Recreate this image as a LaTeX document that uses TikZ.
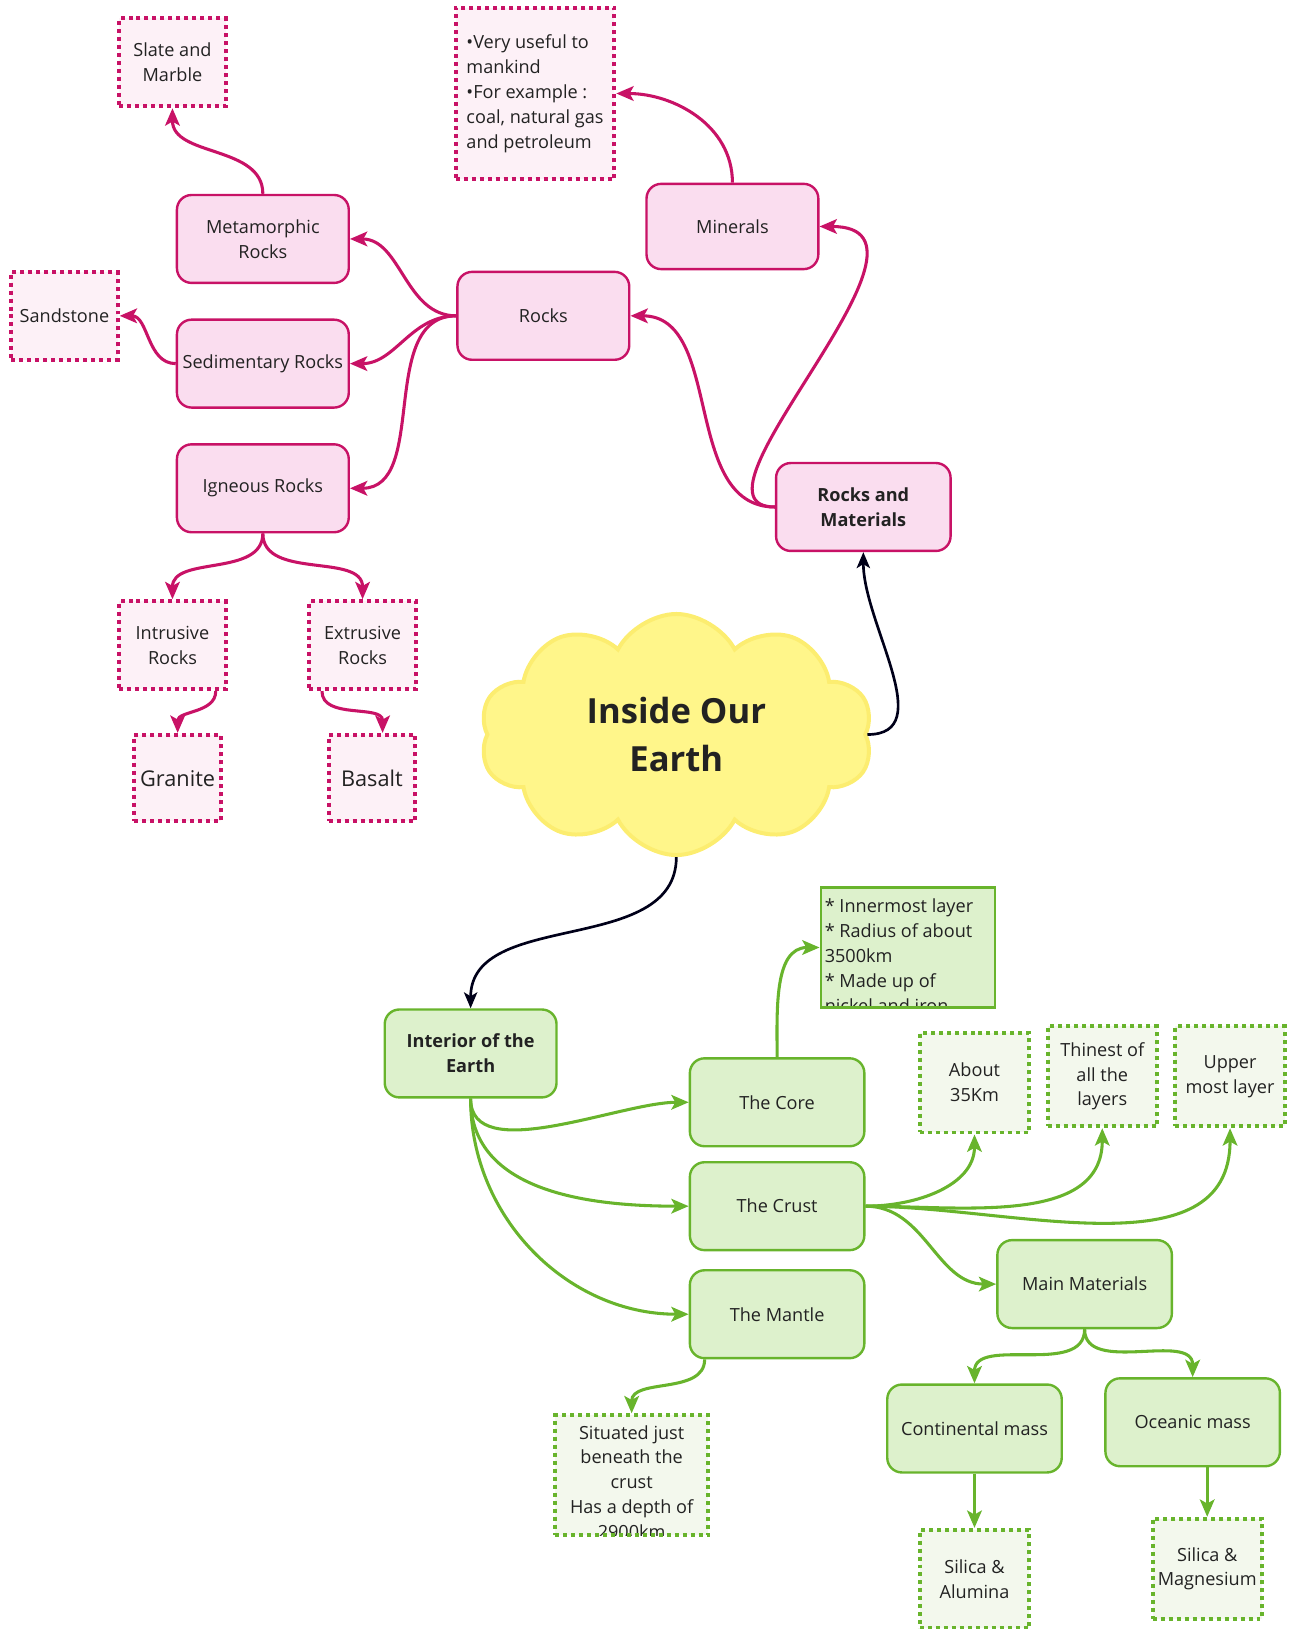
\documentclass[tikz,border=0pt]{standalone}
\usepackage{fontspec}
\setmainfont{Open Sans}
\usetikzlibrary{arrows.meta,shapes.symbols}

\definecolor{pinkline}{RGB}{200,18,102}
\definecolor{pinkfill}{RGB}{250,221,239}
\definecolor{pinklite}{RGB}{253,241,247}
\definecolor{greenline}{RGB}{104,180,44}
\definecolor{greenfill}{RGB}{221,241,204}
\definecolor{greenlite}{RGB}{243,248,237}
\definecolor{cloudfill}{RGB}{255,246,138}
\definecolor{cloudline}{RGB}{252,237,112}
\definecolor{inktext}{RGB}{34,34,34}

\tikzset{
  txt/.style={font=\fontsize{13.6}{18.7}\selectfont, text=inktext, align=center, inner sep=2pt},
  boldtxt/.style={font=\fontsize{13.6}{18.7}\selectfont\bfseries},
  pinkbox/.style={txt, draw=pinkline, fill=pinkfill, line width=1.8pt, rounded corners=11pt,
    minimum width=129pt, minimum height=66pt},
  pinkdot/.style={txt, draw=pinkline, fill=pinklite, line width=3pt, dash pattern=on 3pt off 3pt,
    minimum width=80pt, minimum height=66pt},
  greenbox/.style={txt, draw=greenline, fill=greenfill, line width=1.8pt, rounded corners=11pt,
    minimum width=131pt, minimum height=66pt},
  greendot/.style={txt, draw=greenline, fill=greenlite, line width=3pt, dash pattern=on 3pt off 3pt,
    minimum width=82pt, minimum height=75pt},
  pinkarrow/.style={draw=pinkline, line width=2.3pt, -{Stealth[length=13pt,width=11pt,inset=3pt]}},
  greenarrow/.style={draw=greenline, line width=2.3pt, -{Stealth[length=13pt,width=11pt,inset=3pt]}},
  blackarrow/.style={draw=black!90!blue, line width=2pt, -{Stealth[length=12pt,width=10pt,inset=3pt]}},
  cliptxt/.style={txt, draw=none, fill=none, minimum width=0pt, minimum height=0pt, line width=0pt}
}

\begin{document}
\begin{tikzpicture}[x=0.78pt,y=0.78pt]
	\useasboundingbox (0,0) rectangle (1240,-1568);
	
	% rocks and materials
	\node[pinkdot] (slate) at (166,-60) {Slate and\\Marble};
	\node[pinkdot, align=left, minimum width=119pt, minimum height=129pt] (mininfo) at (515,-90) {•Very useful to\\mankind\\•For example :\\coal, natural gas\\and petroleum};
	\node[pinkbox] (meta) at (253,-230) {Metamorphic\\Rocks};
	\node[pinkbox, minimum height=64pt] (minerals) at (705,-218) {Minerals};
	\node[pinkdot] (sand) at (62,-304) {Sandstone};
	\node[pinkbox] (rocks) at (523,-304) {Rocks};
	\node[pinkbox] (sedi) at (253,-350) {Sedimentary Rocks};
	\node[pinkbox] (igne) at (253,-470) {Igneous Rocks};
	\node[pinkbox, boldtxt, minimum width=131pt] (rockmat) at (831,-488) {Rocks and\\Materials};
	\node[pinkdot] (intru) at (166,-621) {Intrusive\\Rocks};
	\node[pinkdot] (extru) at (349,-621) {Extrusive\\Rocks};
	\node[pinkdot, minimum width=65pt, minimum height=65pt, font=\fontsize{16.3}{20}\selectfont] (granite) at (171,-749) {Granite};
	\node[pinkdot, minimum width=65pt, minimum height=65pt, font=\fontsize{16.3}{20}\selectfont] (basalt) at (358,-749) {Basalt};
	
	\node[cloud, cloud puffs=10, cloud puff arc=125, aspect=1.6, draw=cloudline, fill=cloudfill, line width=3pt,
	  minimum width=295pt, minimum height=181pt, align=center, text=inktext,
	  font=\fontsize{26}{36.5}\selectfont\bfseries] (earth) at (651,-707) {Inside Our\\Earth};
	
	% interior of the earth
	\node[draw=greenline, fill=greenfill, line width=1.8pt, minimum width=131pt, minimum height=90pt,
	  path picture={\node[cliptxt, align=left, anchor=north west]
	    at ([shift={(1pt,-6.5pt)}]path picture bounding box.north west)
	    {* Innermost layer\\* Radius of about\\3500km\\* Made up of\\nickel and iron};}] (coreinfo) at (874,-912) {};
	\node[greenbox, boldtxt, minimum width=129pt] (interior) at (453,-1014) {Interior of the\\Earth};
	\node[greendot] (about) at (938,-1042) {About\\35Km};
	\node[greendot] (thinest) at (1061,-1036) {Thinest of\\all the\\layers};
	\node[greendot] (upper) at (1184,-1036) {Upper\\most layer};
	\node[greenbox] (core) at (748,-1061) {The Core};
	\node[greenbox] (crust) at (748,-1161) {The Crust};
	\node[greenbox] (mainmat) at (1044,-1236) {Main Materials};
	\node[greenbox] (mantle) at (748,-1265) {The Mantle};
	\node[greendot, minimum width=115pt, minimum height=90pt,
	  path picture={\node[cliptxt, anchor=north]
	    at ([yshift=-5.5pt]path picture bounding box.north)
	    {Situated just\\beneath the\\crust\\Has a depth of\\2900km};}] (situated) at (608,-1420) {};
	\node[greenbox] (ocean) at (1148,-1369) {Oceanic mass};
	\node[greenbox] (conti) at (938,-1375) {Continental mass};
	\node[greendot, minimum height=74pt] (silalu) at (938,-1520) {Silica \&\\Alumina};
	\node[greendot] (silmag) at (1162,-1510) {Silica \&\\Magnesium};
	
	% pink connectors
	\draw[pinkarrow] (rockmat.west) to[out=180,in=0] (rocks.east);
	\draw[pinkarrow] (rockmat.west) .. controls +(-100,0) and +(140,0) .. (minerals.east);
	\draw[pinkarrow] (rocks.west) to[out=180,in=0] (meta.east);
	\draw[pinkarrow] (rocks.west) to[out=180,in=0] (sedi.east);
	\draw[pinkarrow] (rocks.west) to[out=180,in=0] (igne.east);
	\draw[pinkarrow] (meta.north) to[out=90,in=-90] (slate.south);
	\draw[pinkarrow] (sedi.west) to[out=180,in=0] (sand.east);
	\draw[pinkarrow] (igne.south) to[out=-90,in=90] (intru.north);
	\draw[pinkarrow] (igne.south) to[out=-90,in=90] (extru.north);
	\draw[pinkarrow] ([xshift=-9pt]intru.south east) to[out=-90,in=90] (granite.north);
	\draw[pinkarrow] ([xshift=11pt]extru.south west) to[out=-90,in=90] ([xshift=8pt]basalt.north);
	\draw[pinkarrow] (minerals.north) to[out=90,in=0] (mininfo.east);
	
	% black connectors
	\draw[blackarrow] (earth.east) to[out=0,in=-90] (rockmat.south);
	\draw[blackarrow] (earth.south) to[out=-90,in=90] (interior.north);
	
	% green connectors
	\draw[greenarrow] (interior.south) to[out=-90,in=180,looseness=0.8] (core.west);
	\draw[greenarrow] (interior.south) to[out=-90,in=180] (crust.west);
	\draw[greenarrow] (interior.south) to[out=-90,in=180] (mantle.west);
	\draw[greenarrow] (core.north) to[out=90,in=180] (coreinfo.west);
	\draw[greenarrow] (crust.east) to[out=0,in=-90] (about.south);
	\draw[greenarrow] (crust.east) to[out=0,in=-90] (thinest.south);
	\draw[greenarrow] (crust.east) to[out=0,in=-90] (upper.south);
	\draw[greenarrow] (crust.east) to[out=0,in=180] (mainmat.west);
	\draw[greenarrow] ([xshift=12pt]mantle.south west) to[out=-90,in=90] (situated.north);
	\draw[greenarrow] (mainmat.south) to[out=-90,in=90] (conti.north);
	\draw[greenarrow] (mainmat.south) to[out=-90,in=90] (ocean.north);
	\draw[greenarrow] (conti.south) -- (silalu.north);
	\draw[greenarrow] (silmag.north |- ocean.south) -- (silmag.north);
\end{tikzpicture}
\end{document}
